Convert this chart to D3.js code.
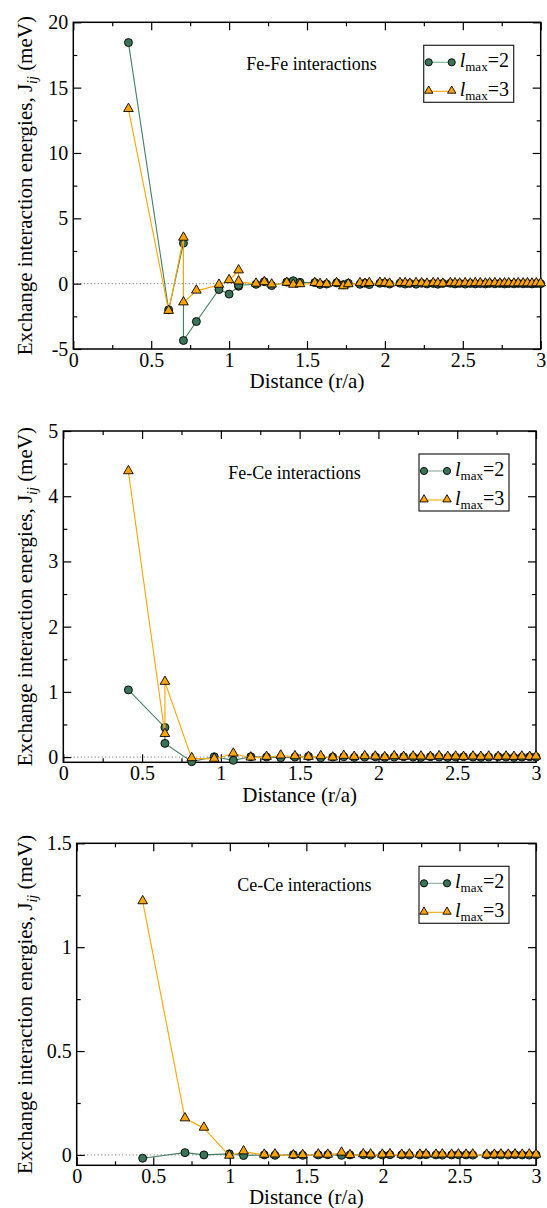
<!DOCTYPE html>
<html>
<head>
<meta charset="utf-8">
<script src="https://cdn.jsdelivr.net/npm/d3@7/dist/d3.min.js"></script>
<style>
  body { margin: 0; background: #fff; }
  svg { display: block; }
  text { font-family: "Liberation Serif", "Times New Roman", serif; fill: #000; }
</style>
</head>
<body>
<script>
//distances (r/a) and exchange energies (meV)
var feFeDist = [0.354, 0.612, 0.707, 0.707, 0.790, 0.935, 1.000, 1.061, 1.061, 1.173,
  1.226, 1.273, 1.370, 1.412, 1.455, 1.550, 1.584, 1.626, 1.690, 1.733,
  1.765, 1.840, 1.872, 1.900, 1.968, 2.000, 2.030, 2.097, 2.130, 2.160,
  2.200, 2.236, 2.270, 2.310, 2.340, 2.372, 2.420, 2.450, 2.480, 2.515,
  2.548, 2.580, 2.612, 2.645, 2.672, 2.706, 2.738, 2.768, 2.795, 2.828,
  2.856, 2.887, 2.915, 2.944, 2.972, 3.000];
var feFeJ2 = [18.45, -2.00, 3.10, -4.35, -2.90, -0.45, -0.80, -0.20, -0.12, -0.05,
  0.15, -0.15, 0.12, 0.22, 0.10, 0.08, -0.06, -0.03, 0.06, -0.08,
  0.03, -0.05, 0.04, -0.07, 0.03, 0.05, -0.03, 0.04, -0.03, 0.02,
  -0.04, 0.03, -0.02, 0.02, -0.04, 0.02, 0.03, -0.02, 0.02, -0.03,
  0.02, -0.02, 0.01, -0.02, 0.02, -0.01, 0.02, -0.02, 0.01, -0.01,
  0.02, -0.01, 0.01, -0.02, 0.01, 0.00];
var feFeJ3 = [13.35, -2.10, 3.50, -1.45, -0.55, -0.10, 0.25, 1.00, 0.15, -0.02,
  0.10, -0.08, 0.05, -0.10, -0.06, 0.03, -0.04, -0.06, 0.02, -0.22,
  -0.06, 0.02, -0.03, 0.03, 0.04, 0.02, -0.02, 0.03, 0.02, -0.02,
  0.03, 0.01, -0.02, 0.02, 0.01, -0.02, 0.02, 0.01, -0.01, 0.02,
  -0.01, 0.02, 0.01, -0.01, 0.01, 0.02, -0.01, 0.01, 0.01, -0.01,
  0.01, 0.00, 0.01, -0.01, 0.01, 0.00];

var feCeDist = [0.413, 0.645, 0.645, 0.815, 0.958, 1.079, 1.190, 1.290, 1.380, 1.470,
  1.556, 1.634, 1.710, 1.780, 1.846, 1.913, 1.980, 2.040, 2.100, 2.160,
  2.220, 2.270, 2.330, 2.385, 2.440, 2.490, 2.540, 2.600, 2.650, 2.700,
  2.760, 2.810, 2.860, 2.910, 2.960, 3.000];
var feCeJ2 = [1.03, 0.455, 0.21, -0.07, 0.005, -0.05, 0.005, 0.00, -0.01, 0.00,
  0.01, -0.01, 0.00, 0.005, -0.005, 0.00, 0.005, -0.005, 0.00, 0.005,
  0.00, -0.005, 0.005, 0.00, -0.005, 0.00, 0.005, 0.00, -0.005, 0.00,
  0.005, 0.00, -0.005, 0.00, 0.005, 0.00];
var feCeJ3 = [4.38, 0.35, 1.15, -0.02, -0.03, 0.05, -0.01, 0.00, 0.02, 0.01,
  0.00, 0.01, -0.01, 0.015, 0.00, 0.01, 0.005, -0.005, 0.01, 0.00,
  0.005, 0.005, 0.00, 0.01, 0.00, 0.005, 0.00, 0.005, 0.00, 0.005,
  0.00, 0.005, 0.00, 0.005, 0.00, 0.005];

var ceCeDist = [0.431, 0.707, 0.831, 0.997, 1.090, 1.225, 1.295, 1.415, 1.476, 1.578,
  1.640, 1.730, 1.785, 1.872, 1.920, 1.996, 2.046, 2.123, 2.173, 2.242,
  2.282, 2.347, 2.388, 2.449, 2.493, 2.543, 2.587, 2.678, 2.728, 2.771,
  2.819, 2.863, 2.910, 2.956, 3.000];
var ceCeJ2 = [-0.016, 0.011, 0.000, 0.005, -0.003, 0.000, -0.002, 0.001, -0.002, 0.000,
  0.001, -0.002, 0.000, 0.001, -0.001, 0.000, 0.001, 0.000, -0.001, 0.000,
  0.001, 0.000, -0.001, 0.000, 0.001, 0.000, -0.001, 0.000, 0.001, 0.000,
  0.000, 0.001, 0.000, -0.001, 0.000];
var ceCeJ3 = [1.220, 0.175, 0.130, -0.005, 0.016, 0.000, 0.001, -0.003, -0.002, 0.001,
  0.000, 0.010, -0.002, 0.002, 0.001, 0.000, 0.002, 0.000, 0.001, 0.000,
  0.001, 0.000, 0.001, 0.000, 0.001, 0.000, 0.001, 0.000, 0.000, 0.001,
  0.000, 0.001, 0.000, 0.001, 0.000];

//tick labels
var xTicks = [0, 0.5, 1, 1.5, 2, 2.5, 3];
var xMinor = [0.25, 0.75, 1.25, 1.75, 2.25, 2.75];
var feFeTicks = [-5, 0, 5, 10, 15, 20];
var feFeMinor = [-2.5, 2.5, 7.5, 12.5, 17.5];
var feCeTicks = [0, 1, 2, 3, 4, 5];
var feCeMinor = [0.5, 1.5, 2.5, 3.5, 4.5];
var ceCeTicks = [0, 0.5, 1, 1.5];
var ceCeMinor = [0.25, 0.75, 1.25];

var lmaxLabels = ["2", "3"];
var titles = ["Fe-Fe interactions", "Fe-Ce interactions", "Ce-Ce interactions"];

var green = "#3a7357", greenLine = "#467f62", orange = "#ffa500";

var svg = d3.select("body").append("svg")
  .attr("width", 547)
  .attr("height", 1208);

drawPanel({left: 73.3, right: 540.7, top: 22.3, bottom: 349, yDomain: [-5, 20],
  yTicks: feFeTicks, yMinor: feFeMinor, dist: feFeDist, j2: feFeJ2, j3: feFeJ3,
  title: titles[0], titleAt: 1.11, xlab: 39});
drawPanel({left: 63.3, right: 536, top: 431, bottom: 762.3, yDomain: [-0.08, 5],
  yTicks: feCeTicks, yMinor: feCeMinor, dist: feCeDist, j2: feCeJ2, j3: feCeJ3,
  title: titles[1], titleAt: 1.047, xlab: 39.5});
drawPanel({left: 76.7, right: 536, top: 843.3, bottom: 1165.3, yDomain: [-0.05, 1.5],
  yTicks: ceCeTicks, yMinor: ceCeMinor, dist: ceCeDist, j2: ceCeJ2, j3: ceCeJ3,
  title: titles[2], titleAt: 1.048, xlab: 39});

function drawPanel(p){
  var x = d3.scaleLinear().domain([0, 3]).range([p.left, p.right]);
  var y = d3.scaleLinear().domain(p.yDomain).range([p.bottom, p.top]);
  var g = svg.append("g");
  var fmt = function(d){ return String(d); };

  //zero reference line
  g.append("line")
    .attr("x1", x(0)).attr("x2", x(3))
    .attr("y1", y(0)).attr("y2", y(0))
    .attr("stroke", "#666").attr("stroke-width", 1)
    .attr("stroke-dasharray", "1,2.5");

  //axes, ticks point inwards on all four sides
  var axes = [
    [d3.axisBottom(x), "translate(0," + p.bottom + ")", xTicks, xMinor, true, 4],
    [d3.axisTop(x), "translate(0," + p.top + ")", xTicks, xMinor, false, 4],
    [d3.axisLeft(y), "translate(" + p.left + ",0)", p.yTicks, p.yMinor, true, 5],
    [d3.axisRight(y), "translate(" + p.right + ",0)", p.yTicks, p.yMinor, false, 5]
  ];
  axes.forEach(function(a){
    var major = g.append("g")
      .attr("transform", a[1])
      .call(a[0].tickValues(a[2]).tickSizeInner(-8).tickSizeOuter(0).tickPadding(a[5])
        .tickFormat(a[4] ? fmt : ""));
    major.select(".domain").remove();
    major.selectAll("line").attr("stroke-width", 1.2);
    major.selectAll("text").attr("font-size", 20);
    var minor = g.append("g")
      .attr("transform", a[1])
      .call(a[0].tickValues(a[3]).tickSizeInner(-4).tickSizeOuter(0).tickFormat(""));
    minor.select(".domain").remove();
    minor.selectAll("line").attr("stroke-width", 1.2);
  });

  //frame
  g.append("rect")
    .attr("x", p.left).attr("y", p.top)
    .attr("width", p.right - p.left).attr("height", p.bottom - p.top)
    .attr("fill", "none").attr("stroke", "#000").attr("stroke-width", 1.5);

  //series lines and markers
  var line = d3.line()
    .x(function(d){ return x(d[0]); })
    .y(function(d){ return y(d[1]); });
  var s2 = d3.zip(p.dist, p.j2), s3 = d3.zip(p.dist, p.j3);

  g.append("path").datum(s2)
    .attr("d", line).attr("fill", "none")
    .attr("stroke", greenLine).attr("stroke-width", 1.1);
  g.selectAll(".c2").data(s2).enter().append("circle")
    .attr("class", "c2")
    .attr("cx", function(d){ return x(d[0]); })
    .attr("cy", function(d){ return y(d[1]); })
    .attr("r", 4)
    .attr("fill", green).attr("stroke", "#000").attr("stroke-width", 0.9);

  g.append("path").datum(s3)
    .attr("d", line).attr("fill", "none")
    .attr("stroke", orange).attr("stroke-width", 1.1);
  var tri = d3.symbol(d3.symbolTriangle).size(40);
  g.selectAll(".t3").data(s3).enter().append("path")
    .attr("class", "t3")
    .attr("d", tri)
    .attr("transform", function(d){ return "translate(" + x(d[0]) + "," + (y(d[1]) - 0.5) + ")"; })
    .attr("fill", orange).attr("stroke", "#000").attr("stroke-width", 0.9);

  //panel title
  g.append("text")
    .attr("x", x(p.titleAt)).attr("y", p.top + 48)
    .attr("font-size", 18)
    .text(p.title);

  //axis titles
  g.append("text")
    .attr("x", (p.left + p.right) / 2).attr("y", p.bottom + p.xlab)
    .attr("text-anchor", "middle").attr("font-size", 21)
    .text("Distance (r/a)");

  var yl = g.append("text")
    .attr("transform", "translate(32," + ((p.top + p.bottom) / 2) + ") rotate(-90)")
    .attr("text-anchor", "middle").attr("font-size", 21);
  yl.append("tspan").text("Exchange interaction energies, J");
  yl.append("tspan").attr("font-style", "italic").attr("font-size", 14).attr("dy", 5).text("ij");
  yl.append("tspan").attr("dy", -5).text(" (meV)");

  //legend
  var lx = p.right - 117, ly = p.top + 23;
  var leg = g.append("g");
  leg.append("rect")
    .attr("x", lx).attr("y", ly).attr("width", 90).attr("height", 57)
    .attr("fill", "#fff").attr("stroke", "#222").attr("stroke-width", 1.2);
  [0, 1].forEach(function(i){
    var my = ly + 17 + i * 29;
    leg.append("line")
      .attr("x1", lx + 5).attr("x2", lx + 28)
      .attr("y1", my).attr("y2", my)
      .attr("stroke", i == 0 ? "#86ad98" : orange).attr("stroke-width", 1.1);
    [lx + 5, lx + 28].forEach(function(mx){
      if (i == 0){
        leg.append("circle").attr("cx", mx).attr("cy", my).attr("r", 3.6)
          .attr("fill", green).attr("stroke", "#000").attr("stroke-width", 0.9);
      } else {
        leg.append("path").attr("d", d3.symbol(d3.symbolTriangle).size(30))
          .attr("transform", "translate(" + mx + "," + (my - 0.5) + ")")
          .attr("fill", orange).attr("stroke", "#000").attr("stroke-width", 0.9);
      }
    });
    var t = leg.append("text")
      .attr("x", lx + 36).attr("y", ly + 22 + i * 28.5)
      .attr("font-size", 20);
    t.append("tspan").attr("font-style", "italic").text("l");
    t.append("tspan").attr("font-size", 13).attr("dy", 4).text("max");
    t.append("tspan").attr("dy", -4).text("=" + lmaxLabels[i]);
  });
};
</script>
</body>
</html>
